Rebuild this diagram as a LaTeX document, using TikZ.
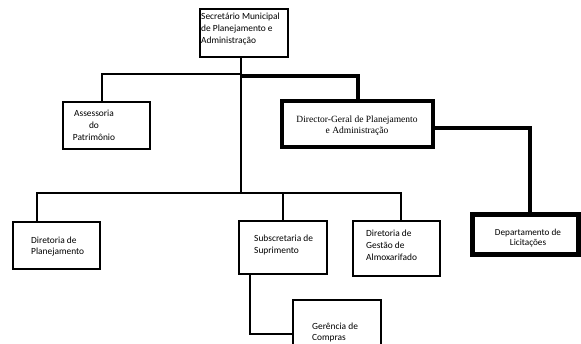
\documentclass[tikz,border=0pt]{standalone}
\usepackage{fontspec}
\setmainfont{Carlito}
\newfontfamily\serifx{Liberation Serif}
\begin{document}
\begin{tikzpicture}[x=1pt,y=-1pt,
  box/.style={draw, line width=1.6pt, inner sep=0pt},
  txt/.style={font=\fontsize{9.4}{11.8}\selectfont, align=left, inner sep=0pt, anchor=west},
  conn/.style={line width=1.8pt},
  heavy/.style={line width=4pt},
  heavybox/.style={draw, line width=3.6pt, inner sep=0pt}]
\useasboundingbox (0,0) rectangle (581,344);
\clip (0,0) rectangle (581,344);
% boxes
\node[box, minimum width=88pt, minimum height=48pt] (top) at (244,33) {};
\node[box, minimum width=87pt, minimum height=47pt] (asse) at (106.5,125.5) {};
\node[heavybox, minimum width=151pt, minimum height=46pt] (dir) at (357.5,124) {};
\node[box, minimum width=87pt, minimum height=47pt] (plan) at (56.5,245.5) {};
\node[box, minimum width=88pt, minimum height=53pt] (sub) at (283,247.5) {};
\node[box, minimum width=87pt, minimum height=55pt] (gest) at (396.5,248.5) {};
\node[draw, line width=5pt, inner sep=0pt, minimum width=106pt, minimum height=40pt] (dep) at (525,235) {};
\node[box, minimum width=88pt, minimum height=52pt] (ger) at (337,326) {};
% texts
\node[txt] at (201,29) {Secretário Municipal\\de Planejamento e\\Administração};
\node[txt, align=center, anchor=center] at (94,125.5) {Assessoria\\do\\Patrimônio};
\node[font=\serifx\fontsize{9.5}{11}\selectfont, align=center, inner sep=0pt] at (357,125.5) {Director-Geral de Planejamento\\e Administração};
\node[txt] at (31,246.5) {Diretoria de\\Planejamento};
\node[txt] at (254,245) {Subscretaria de\\Suprimento};
\node[txt] at (366,245.5) {Diretoria de\\Gestão de\\Almoxarifado};
\node[font=\fontsize{9.2}{10.8}\selectfont, align=center, inner sep=0pt] at (528,238) {Departamento de\\Licitações};
\node[txt] at (312,332.5) {Gerência de\\Compras};
% junctions
\coordinate (j1) at (241,74);
\coordinate (j2) at (241,193);
\coordinate (j3) at (241,76);
\coordinate (k1) at (250,334);
% connectors
\draw[conn] ([xshift=-3pt]top.south) -- (j2);
\draw[conn] (j1) -| ([xshift=-4.5pt]asse.north);
\draw[heavy] (j3) -| (dir.north);
\draw[conn] ([xshift=-19.5pt]plan.north) |- (j2) -| ([xshift=4.5pt]gest.north);
\draw[conn] (sub.north) -- (sub.north |- j2);
\draw[heavy] ([yshift=-4pt]dir.east) -| ([xshift=4.5pt]dep.north);
\draw[conn] ([xshift=-33pt]sub.south) |- (ger.west |- k1);
\end{tikzpicture}
\end{document}
